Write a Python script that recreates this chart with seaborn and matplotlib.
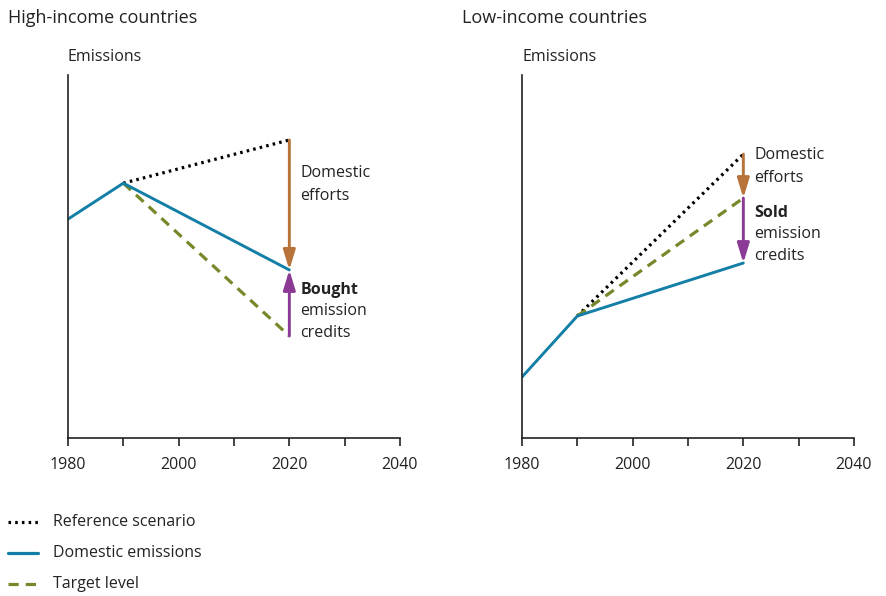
import matplotlib
matplotlib.use("Agg")
import matplotlib.pyplot as plt
import seaborn as sns
import pandas as pd

sns.set_theme(style="white")
plt.rcParams["font.family"] = ["Open Sans", "DejaVu Sans"]

# Illustrative emission paths (arbitrary index units)
years_dom = [1980, 1990, 2020]
years_fut = [1990, 2020]

high_domestic = [60.3, 70.2, 46.3]
high_reference = [70.2, 82.1]
high_target = [70.2, 28.1]

low_domestic = [16.8, 33.6, 48.2]
low_reference = [33.6, 78.2]
low_target = [33.6, 66.1]

titles = ["High-income countries", "Low-income countries"]
x_ticks = [1980, 2000, 2020, 2040]

C_DOM = "#137fa6"
C_REF = "#000000"
C_TGT = "#76892a"
C_EFFORT = "#b8733a"
C_CREDIT = "#8b3a96"

fig = plt.figure(figsize=(8.87, 5.96), dpi=100)
W, H = 887, 596


def axes_at(x0, x1, ytop, ybot):
    return fig.add_axes([x0 / W, 1 - ybot / H, (x1 - x0) / W, (ybot - ytop) / H])


ax_high = axes_at(68, 400, 75, 438)
ax_low = axes_at(522, 854, 75, 438)


def draw_panel(ax, dom, ref, tgt):
    d = pd.DataFrame({"year": years_dom, "value": dom})
    r = pd.DataFrame({"year": years_fut, "value": ref})
    t = pd.DataFrame({"year": years_fut, "value": tgt})
    sns.lineplot(data=r, x="year", y="value", ax=ax, color=C_REF, lw=2.3,
                 linestyle=(0, (0.8, 1.3)))
    sns.lineplot(data=t, x="year", y="value", ax=ax, color=C_TGT, lw=2.3,
                 linestyle=(0, (3.2, 2.2)))
    sns.lineplot(data=d, x="year", y="value", ax=ax, color=C_DOM, lw=2.1)
    ax.set_xlim(1980, 2040)
    ax.set_ylim(0, 100)
    ax.set_xticks(x_ticks)
    ax.set_xticks([1990, 2010, 2030], minor=True)
    ax.set_xticklabels([str(v) for v in x_ticks], fontsize=11.5, color="#222222")
    ax.tick_params(axis="x", which="both", direction="out", length=6, width=1.2,
                   color="#222222", bottom=True, pad=8)
    ax.set_yticks([])
    ax.set_xlabel("")
    ax.set_ylabel("")
    for s in ["top", "right"]:
        ax.spines[s].set_visible(False)
    for s in ["left", "bottom"]:
        ax.spines[s].set_color("#222222")
        ax.spines[s].set_linewidth(1.2)
    ax.text(0, 1 + 18 / 363, "Emissions", transform=ax.transAxes, fontsize=11.5,
            ha="left", va="center", color="#222222")


def arrow(ax, y_from, y_to, color):
    ax.annotate("", xy=(2020, y_to), xytext=(2020, y_from),
                arrowprops=dict(arrowstyle="-|>,head_length=0.85,head_width=0.26",
                                color=color, lw=2.1, shrinkA=0, shrinkB=0,
                                mutation_scale=14))


def label(ax, y, s, bold=False):
    ax.text(2022, y, s, fontsize=11.5, color="#222222", ha="left", va="center",
            fontweight="bold" if bold else "normal")


# High-income: domestic effort falls short, credits are bought
draw_panel(ax_high, high_domestic, high_reference, high_target)
arrow(ax_high, high_reference[-1], high_domestic[-1], C_EFFORT)
arrow(ax_high, high_target[-1], high_domestic[-1], C_CREDIT)
label(ax_high, 73.0, "Domestic")
label(ax_high, 66.7, "efforts")
label(ax_high, 40.8, "Bought", bold=True)
label(ax_high, 35.0, "emission")
label(ax_high, 28.9, "credits")

# Low-income: surplus reduction below target is sold
draw_panel(ax_low, low_domestic, low_reference, low_target)
arrow(ax_low, low_reference[-1], low_target[-1], C_EFFORT)
arrow(ax_low, low_target[-1], low_domestic[-1], C_CREDIT)
label(ax_low, 78.0, "Domestic")
label(ax_low, 71.6, "efforts")
label(ax_low, 62.0, "Sold", bold=True)
label(ax_low, 56.2, "emission")
label(ax_low, 50.1, "credits")

fig.text(8 / W, 1 - 18 / H, titles[0], fontsize=13, ha="left", va="center",
         color="#222222")
fig.text(462 / W, 1 - 18 / H, titles[1], fontsize=13, ha="left", va="center",
         color="#222222")

# Legend drawn with proxy lines in figure coordinates
legend_items = [
    ("Reference scenario", C_REF, (0, (0.8, 1.3))),
    ("Domestic emissions", C_DOM, "-"),
    ("Target level", C_TGT, (0, (3.2, 2.2))),
]
for i, (name, col, ls) in enumerate(legend_items):
    yy = 1 - (522 + 31 * i) / H
    fig.add_artist(plt.Line2D([8 / W, 38 / W], [yy, yy], color=col, lw=2.3,
                              linestyle=ls, transform=fig.transFigure))
    fig.text(53 / W, yy, name, fontsize=11.5, ha="left", va="center",
             color="#222222")

fig.savefig("out.png", dpi=100)
